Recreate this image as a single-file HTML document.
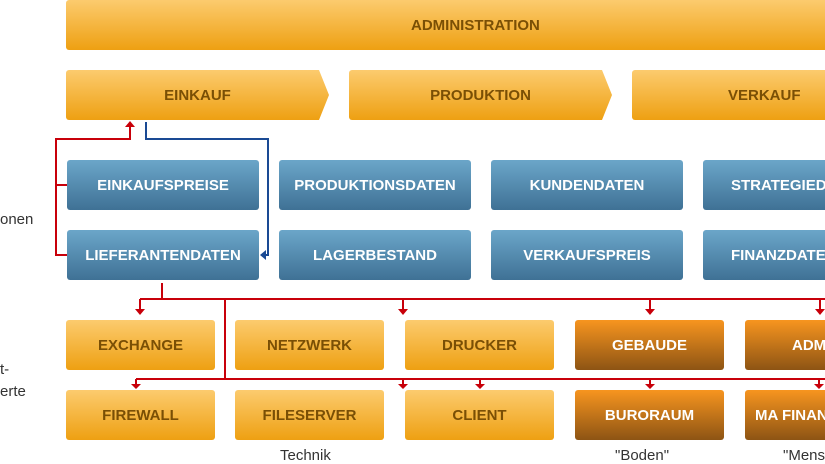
<!DOCTYPE html>
<html><head><meta charset="utf-8"><style>
body{margin:0;width:825px;height:462px;overflow:hidden;background:#fff;position:relative;font-family:"Liberation Sans","DejaVu Sans",sans-serif}
.b{position:absolute;display:flex;align-items:center;justify-content:center;font-weight:bold;font-size:15px;white-space:nowrap;overflow:hidden;border-radius:3px}
.y{background:linear-gradient(#fccb6e,#eea012);color:#7a4f05}
.bl{background:linear-gradient(#6ba6c9,#3f7195);color:#fff}
.o{background:linear-gradient(#f7951f,#8d5414);color:#fff}
.ch{clip-path:polygon(0 0,253px 0,263px 50%,253px 100%,0 100%);border-radius:3px 0 0 3px}
.t{position:absolute;font-size:15px;color:#333;white-space:nowrap}
</style></head><body>
<div class="b y" style="left:66px;top:0;width:780px;height:50px;padding-right:20px;box-sizing:border-box;justify-content:flex-start;padding-left:345px">ADMINISTRATION</div>
<div class="b y ch" style="left:66px;top:70px;width:263px;height:50px">EINKAUF</div>
<div class="b y ch" style="left:349px;top:70px;width:263px;height:50px">PRODUKTION</div>
<div class="b y ch" style="left:632px;top:70px;width:263px;height:50px;justify-content:flex-start;padding-left:96px;box-sizing:border-box">VERKAUF</div>

<div class="b bl" style="left:67px;top:160px;width:192px;height:50px">EINKAUFSPREISE</div>
<div class="b bl" style="left:279px;top:160px;width:192px;height:50px">PRODUKTIONSDATEN</div>
<div class="b bl" style="left:491px;top:160px;width:192px;height:50px">KUNDENDATEN</div>
<div class="b bl" style="left:703px;top:160px;width:192px;height:50px;justify-content:flex-start;padding-left:28px;box-sizing:border-box">STRATEGIEDATEN</div>
<div class="b bl" style="left:67px;top:230px;width:192px;height:50px">LIEFERANTENDATEN</div>
<div class="b bl" style="left:279px;top:230px;width:192px;height:50px">LAGERBESTAND</div>
<div class="b bl" style="left:491px;top:230px;width:192px;height:50px">VERKAUFSPREIS</div>
<div class="b bl" style="left:703px;top:230px;width:192px;height:50px;justify-content:flex-start;padding-left:28px;box-sizing:border-box">FINANZDATEN</div>

<div class="b y" style="left:66px;top:320px;width:149px;height:50px">EXCHANGE</div>
<div class="b y" style="left:235px;top:320px;width:149px;height:50px">NETZWERK</div>
<div class="b y" style="left:405px;top:320px;width:149px;height:50px">DRUCKER</div>
<div class="b o" style="left:575px;top:320px;width:149px;height:50px">GEBAUDE</div>
<div class="b o" style="left:745px;top:320px;width:149px;height:50px;justify-content:flex-start;padding-left:47px;box-sizing:border-box">ADMIN</div>
<div class="b y" style="left:66px;top:390px;width:149px;height:50px">FIREWALL</div>
<div class="b y" style="left:235px;top:390px;width:149px;height:50px">FILESERVER</div>
<div class="b y" style="left:405px;top:390px;width:149px;height:50px">CLIENT</div>
<div class="b o" style="left:575px;top:390px;width:149px;height:50px">BURORAUM</div>
<div class="b o" style="left:745px;top:390px;width:149px;height:50px;justify-content:flex-start;padding-left:10px;box-sizing:border-box">MA FINANZ</div>

<div class="t" style="left:0;top:211px">onen</div>
<div class="t" style="left:0;top:361px">t-</div>
<div class="t" style="left:0;top:383px">erte</div>
<div class="t" style="left:280px;top:447px">Technik</div>
<div class="t" style="left:615px;top:447px">"Boden"</div>
<div class="t" style="left:783px;top:447px">"Mensch"</div>

<svg width="825" height="462" style="position:absolute;left:0;top:0" fill="none" stroke-width="2">
<g stroke="#c8000a">
<path d="M130 125V139H56V255H67M56 185H67"/>
<path d="M162 283V299M140 299H825M140 299V310M403 299V310M650 299V310M820 299V310"/>
<path d="M225 299V379M136 379H825M136 379V386M403 379V386M480 379V386M650 379V386M819 379V386"/>
</g>
<g fill="#c8000a">
<path d="M125 127L130 121L135 127Z"/>
<path d="M135 309L140 315L145 309ZM398 309L403 315L408 309ZM645 309L650 315L655 309ZM815 309L820 315L825 309Z"/>
<path d="M131 384L136 389L141 384ZM398 384L403 389L408 384ZM475 384L480 389L485 384ZM645 384L650 389L655 384ZM814 384L819 389L824 384Z"/>
</g>
<path d="M146 122V139H268V255H263" stroke="#1a4a94"/>
<path d="M266 250L260 255L266 260Z" fill="#1a4a94"/>
</svg>
</body></html>
